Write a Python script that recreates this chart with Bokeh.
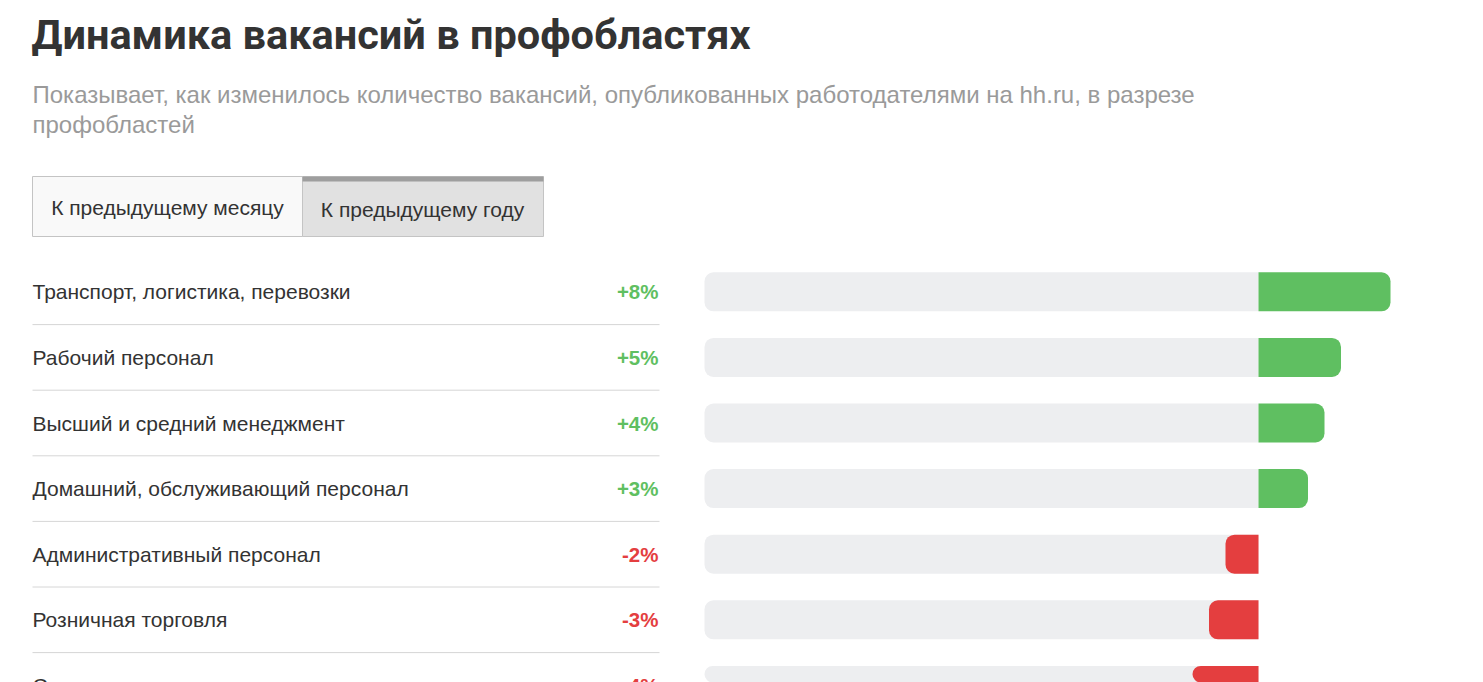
from bokeh.plotting import figure
from bokeh.models import Range1d
from bokeh.embed import file_html
from bokeh.resources import INLINE
from bokeh.core.properties import value

# ---- data ----
title = "Динамика вакансий в профобластях"
subtitle_lines = [
    "Показывает, как изменилось количество вакансий, опубликованных работодателями на hh.ru, в разрезе",
    "профобластей",
]
tabs = ["К предыдущему месяцу", "К предыдущему году"]
categories = [
    "Транспорт, логистика, перевозки",
    "Рабочий персонал",
    "Высший и средний менеджмент",
    "Домашний, обслуживающий персонал",
    "Административный персонал",
    "Розничная торговля",
    "Строительство, недвижимость",
]
changes = [8, 5, 4, 3, -2, -3, -4]

# ---- layout constants (pixels) ----
W, H = 1483, 682
PX_PER_PCT = 16.5
ZERO_PX = 1258.0
ROW0 = 291.3
ROW_H = 65.6


def dx(px):
    return (px - ZERO_PX) / PX_PER_PCT


def dy(py):
    return (py - ROW0) / ROW_H


GREEN = "#5fbf61"
RED = "#e43e3f"
TEXT = "#333333"
FONT = "Liberation Sans"

p = figure(width=W, height=H, x_range=Range1d(dx(0), dx(W)), y_range=Range1d(dy(H), dy(0)),
           output_backend="svg", toolbar_location=None, min_border=0,
           x_axis_location=None, y_axis_location=None)
p.grid.visible = False
p.outline_line_color = None
p.background_fill_color = "white"
p.border_fill_color = "white"

# title & subtitle
p.text(x=[dx(31)], y=[dy(34)], text=[title], text_font=value("Roboto"),
       text_font_style="bold", text_font_size="41.5px", text_color=TEXT, text_baseline="middle")
p.text(x=[dx(32), dx(32)], y=[dy(94), dy(123.5)], text=subtitle_lines, text_font=value(FONT),
       text_font_size="24px", text_color="#9a9a9a", text_baseline="middle")

# tabs
p.quad(left=[dx(32)], right=[dx(302)], top=[dy(176)], bottom=[dy(236)],
       fill_color="#f9f9f9", line_color="#c4c4c4", line_width=1)
p.quad(left=[dx(302)], right=[dx(543)], top=[dy(176)], bottom=[dy(236)],
       fill_color="#e1e1e1", line_color="#c4c4c4", line_width=1)
p.quad(left=[dx(302)], right=[dx(543)], top=[dy(176)], bottom=[dy(181)],
       fill_color="#9e9e9e", line_color=None)
p.text(x=[dx(167), dx(422)], y=[dy(207), dy(209)], text=tabs, text_font=value(FONT),
       text_font_size="21px", text_color=TEXT, text_align="center", text_baseline="middle")

rows = list(range(len(categories)))
bar_h = 39 / ROW_H

# separators
p.segment(x0=[dx(32)] * (len(rows) - 1), x1=[dx(659)] * (len(rows) - 1),
          y0=[r + 0.5 for r in rows[:-1]], y1=[r + 0.5 for r in rows[:-1]],
          line_color="#d6d6d6", line_width=1)

# labels and values
p.text(x=[dx(32)] * len(rows), y=rows, text=categories, text_font=value(FONT),
       text_font_size="21px", text_color=TEXT, text_baseline="middle")
val_text = [("+%d%%" % v) if v > 0 else ("%d%%" % v) for v in changes]
val_col = [GREEN if v > 0 else RED for v in changes]
p.text(x=[dx(658)] * len(rows), y=rows, text=val_text, text_font=value(FONT),
       text_font_style="bold", text_font_size="20.5px", text_color=val_col,
       text_align="right", text_baseline="middle")

# tracks
p.hbar(y=rows, left=dx(704), right=0, height=bar_h, fill_color="#edeef0", line_color=None,
       border_radius=(9, 0, 0, 9))

pos_r = [r for r, v in zip(rows, changes) if v > 0]
pos_v = [v for v in changes if v > 0]
neg_r = [r for r, v in zip(rows, changes) if v < 0]
neg_v = [v for v in changes if v < 0]
p.hbar(y=pos_r, left=0, right=pos_v, height=bar_h, fill_color=GREEN, line_color=None,
       border_radius=(0, 9, 9, 0))
p.hbar(y=neg_r, left=neg_v, right=0, height=bar_h, fill_color=RED, line_color=None,
       border_radius=(9, 0, 0, 9))

open("out.html", "w").write(file_html(p, INLINE))
